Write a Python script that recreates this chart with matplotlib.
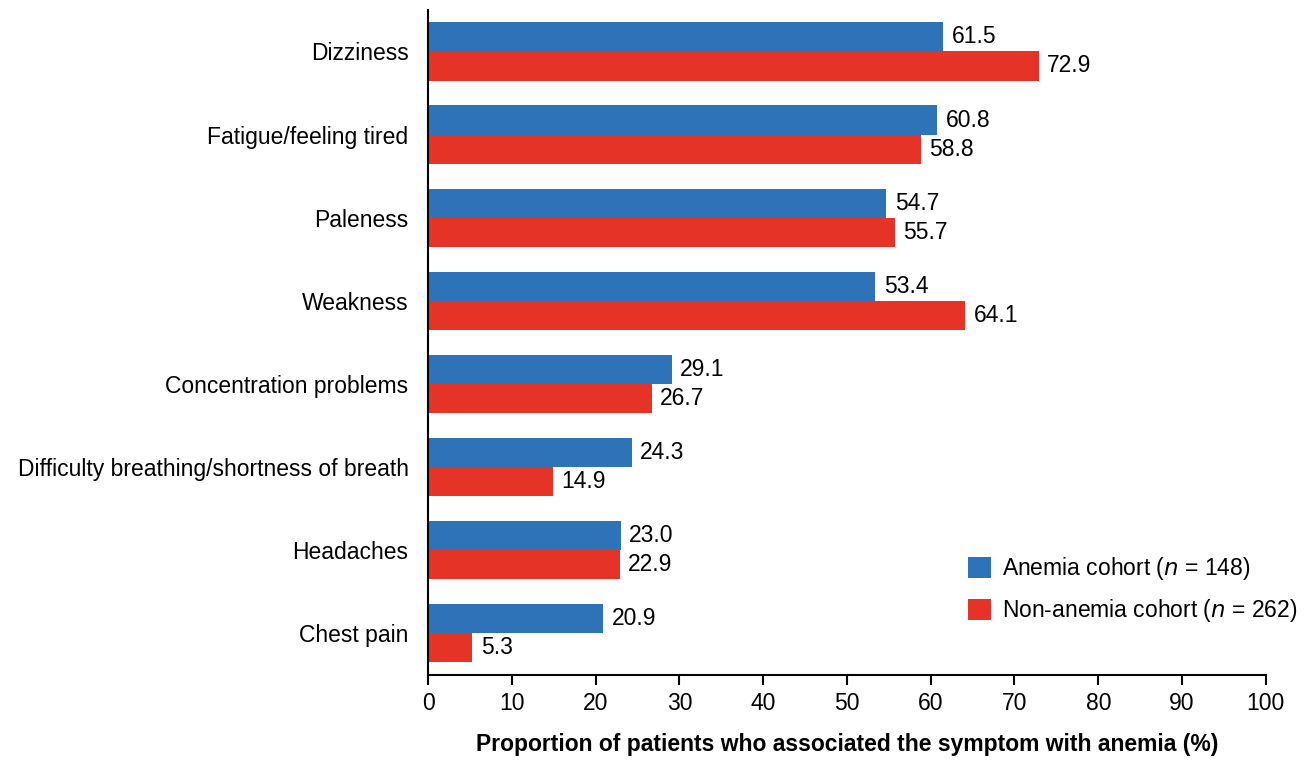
import matplotlib.pyplot as plt
import numpy as np

plt.rcParams["font.family"] = ["Liberation Sans", "DejaVu Sans"]

# data
symptoms = [
    "Dizziness",
    "Fatigue/feeling tired",
    "Paleness",
    "Weakness",
    "Concentration problems",
    "Difficulty breathing/shortness of breath",
    "Headaches",
    "Chest pain",
]
anemia = [61.5, 60.8, 54.7, 53.4, 29.1, 24.3, 23.0, 20.9]
non_anemia = [72.9, 58.8, 55.7, 64.1, 26.7, 14.9, 22.9, 5.3]
xticks = np.arange(0, 101, 10)

blue = "#2E72B8"
red = "#E53427"
fs = 16.5

fig = plt.figure(figsize=(13.09, 7.6), dpi=100)
ax = fig.add_axes([0.327, 0.112, 0.640, 0.875])

y = np.arange(len(symptoms))
h = 0.35
b1 = ax.barh(y - h / 2, anemia, height=h, color=blue, label="Anemia cohort ($n$ = 148)")
b2 = ax.barh(y + h / 2, non_anemia, height=h, color=red, label="Non-anemia cohort ($n$ = 262)")

for bars in (b1, b2):
    for bar in bars:
        w = bar.get_width()
        ax.text(w + 1.0, bar.get_y() + bar.get_height() / 2, f"{w:.1f}",
                va="center", ha="left", fontsize=fs)

ax.set_ylim(len(symptoms) - 0.5, -0.5)
ax.set_xlim(0, 100)
ax.set_xticks(xticks)
ax.set_yticks(y)
ax.set_yticklabels(symptoms, fontsize=fs)
ax.tick_params(axis="x", labelsize=fs, length=7, width=1.5, direction="out", pad=5)
ax.tick_params(axis="y", length=0, pad=14)
ax.spines["top"].set_visible(False)
ax.spines["right"].set_visible(False)
ax.spines["left"].set_linewidth(1.5)
ax.spines["bottom"].set_linewidth(1.5)
ax.set_xlabel("Proportion of patients who associated the symptom with anemia (%)",
              fontsize=fs, fontweight="bold", labelpad=13)

ax.legend(loc="lower right", bbox_to_anchor=(1.057, 0.052), frameon=False, fontsize=fs,
          handlelength=1.0, handleheight=1.0, handletextpad=0.5, labelspacing=0.65,
          borderpad=0.2)

plt.savefig("out.png", dpi=100)
